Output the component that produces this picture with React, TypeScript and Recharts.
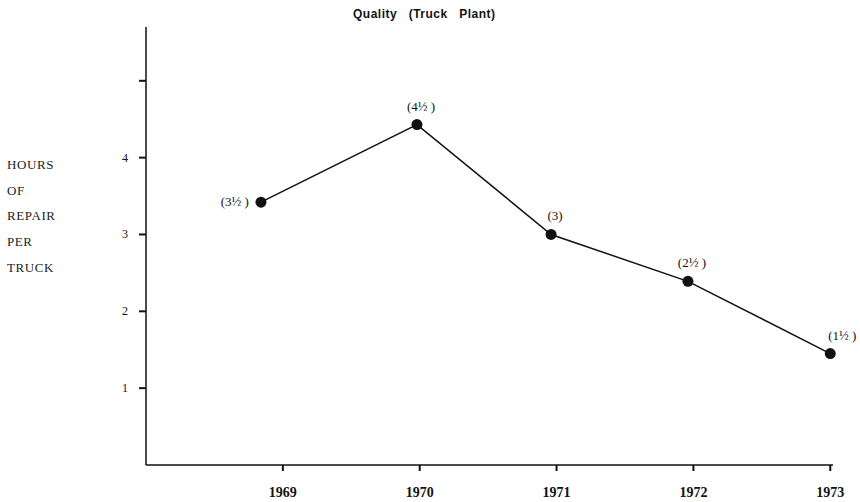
import { LineChart, Line, XAxis, YAxis, LabelList } from 'recharts'

// years on the axis, and where each dot sits along it
const years = [1969, 1970, 1971, 1972, 1973]
const xAt = [1968.84, 1969.98, 1970.96, 1971.96, 1973.0]
const hours = [3.42, 4.43, 3.0, 2.39, 1.45]
const valueLabels = ['(3½ )', '(4½ )', '(3)', '(2½ )', '(1½ )']
const yTicks = [1, 2, 3, 4, 5]
const yTickLabels = ['1', '2', '3', '4', '']
const axisTitle = ['HOURS', 'OF', 'REPAIR', 'PER', 'TRUCK']

const data = years.map((y, i) => ({ year: y, x: xAt[i], hours: hours[i], label: valueLabels[i] }))

const serif = '"Liberation Serif", "DejaVu Serif", serif'

const YearTick = ({ x, payload }: any) => (
  <text x={x} y={497} textAnchor="middle" fontFamily={serif} fontSize={14} fontWeight="bold" fill="#111">
    {payload.value}
  </text>
)

const ValueTick = ({ x, y, payload }: any) => {
  const i = yTicks.indexOf(payload.value)
  return (
    <text x={x - 12} y={y + 4} textAnchor="middle" fontFamily={serif} fontSize={12} fill="#111">
      {yTickLabels[i]}
    </text>
  )
}

// first label sits left of its dot, the rest above
const PointLabel = ({ x, y, value, index }: any) => {
  if (index === 0) {
    return (
      <text x={x - 12} y={y + 4} textAnchor="end" fontFamily={serif} fontSize={13} fill="#111">{value}</text>
    )
  }
  const dx = index === 4 ? 12 : 4
  return (
    <text x={x + dx} y={y - 14} textAnchor="middle" fontFamily={serif} fontSize={13} fill="#111">{value}</text>
  )
}

export default function App() {
  return (
    <div style={{ position: 'absolute', left: 0, top: 0, width: 860, height: 502, background: '#fff' }}>
      <div style={{
        position: 'absolute', left: 353, top: 7,
        fontFamily: '"Liberation Sans", Arial, sans-serif', fontWeight: 'bold', fontSize: 12,
        letterSpacing: 0.5, whiteSpace: 'pre', color: '#111',
      }}>
        {'Quality   (Truck   Plant)'}
      </div>
      {axisTitle.map((t, i) => (
        <div key={t} style={{
          position: 'absolute', left: 7, top: 157 + i * 25.7, fontFamily: serif, fontSize: 13,
          letterSpacing: 0.6, color: '#222', lineHeight: '16px',
        }}>{t}</div>
      ))}
      <LineChart width={860} height={502} data={data} margin={{ top: 27, right: 27, left: 0, bottom: 0 }}>
        <XAxis
          dataKey="x" type="number" domain={[1968, 1973.02]} ticks={years} allowDataOverflow
          height={37} tickSize={6} tick={<YearTick />}
          axisLine={{ stroke: '#111', strokeWidth: 1.5 }} tickLine={{ stroke: '#111', strokeWidth: 2 }}
        />
        <YAxis
          type="number" domain={[0, 5.7]} ticks={yTicks} allowDataOverflow
          width={146} tickSize={7} tick={<ValueTick />}
          axisLine={{ stroke: '#111', strokeWidth: 1.5 }} tickLine={{ stroke: '#111', strokeWidth: 2 }}
        />
        <Line
          type="linear" dataKey="hours" stroke="#111" strokeWidth={1.5}
          dot={{ r: 5.5, fill: '#111', stroke: '#111', strokeWidth: 0, clipDot: false }}
          activeDot={false} isAnimationActive={false}
        >
          <LabelList dataKey="label" content={<PointLabel />} />
        </Line>
      </LineChart>
    </div>
  )
}
